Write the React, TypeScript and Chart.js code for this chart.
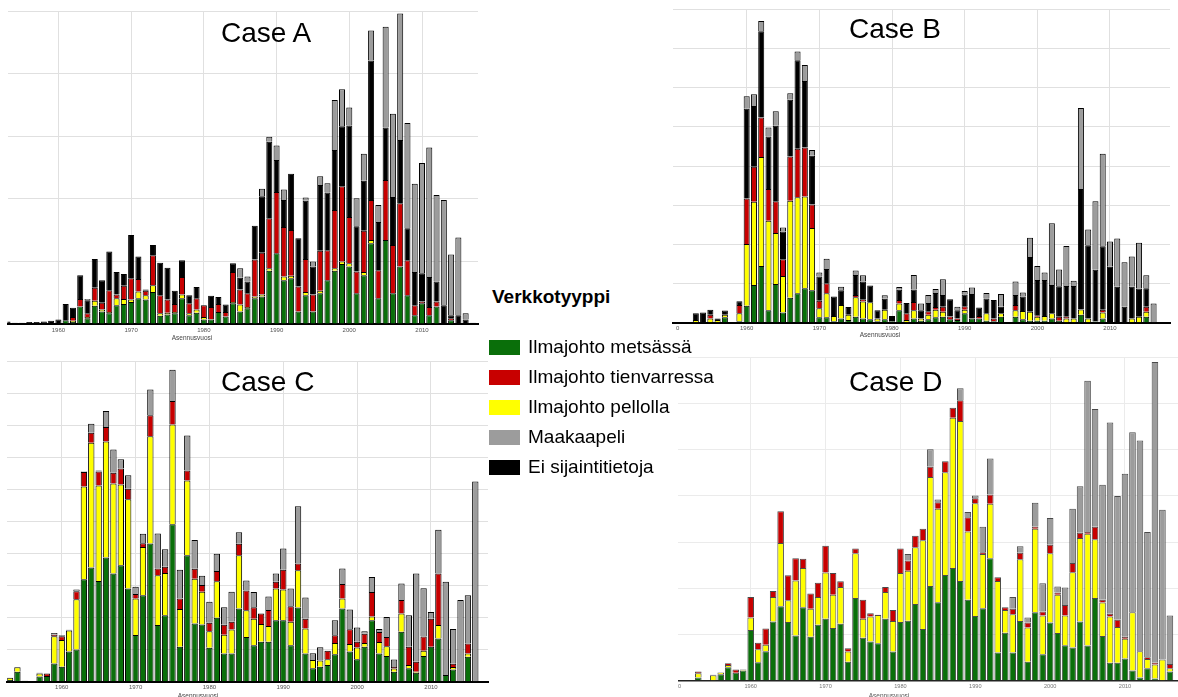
import React, { useEffect, useRef } from 'react';
import { Chart, registerables } from 'chart.js';

Chart.register(...registerables);

// Installation years, one bar per year in every panel.
const YEARS = [
  1953, 1954, 1955, 1956, 1957, 1958, 1959, 1960,
  1961, 1962, 1963, 1964, 1965, 1966, 1967, 1968, 1969, 1970,
  1971, 1972, 1973, 1974, 1975, 1976, 1977, 1978, 1979, 1980,
  1981, 1982, 1983, 1984, 1985, 1986, 1987, 1988, 1989, 1990,
  1991, 1992, 1993, 1994, 1995, 1996, 1997, 1998, 1999, 2000,
  2001, 2002, 2003, 2004, 2005, 2006, 2007, 2008, 2009, 2010,
  2011, 2012, 2013, 2014, 2015, 2016, 2017,
];

const DECADE_TICKS = [1960, 1970, 1980, 1990, 2000, 2010];
// Slot used for lines whose installation year is unknown, labelled "0".
const UNKNOWN_YEAR_TICK = 1950.5;
const UNKNOWN_YEAR_LABEL = '0';
const AXIS_TITLE = 'Asennusvuosi';
const LEGEND_TITLE = 'Verkkotyyppi';

// ---- Case A ----
const caseAForest = [
  0, 0, 0, 0, 0, 0, 0, 0,
  6, 3, 28, 9, 29, 20, 17, 30, 32, 35,
  41, 39, 51, 13, 15, 17, 41, 14, 18, 7,
  7, 19, 12, 33, 20, 25, 41, 44, 85, 113,
  70, 73, 20, 46, 20, 49, 70, 85, 96, 92,
  49, 78, 129, 41, 134, 49, 92, 46, 14, 33,
  14, 28, 0, 6, 0, 0, 0,
];
const caseAField = [
  0, 0, 0, 0, 0, 0, 0, 0,
  0, 2, 0, 2, 8, 3, 2, 11, 8, 4,
  11, 7, 11, 4, 3, 2, 6, 3, 5, 4,
  1, 0, 0, 2, 11, 2, 3, 3, 4, 0,
  6, 4, 0, 5, 0, 4, 0, 4, 4, 5,
  0, 5, 5, 0, 0, 0, 0, 0, 0, 0,
  0, 0, 0, 0, 0, 0, 0,
];
const caseARoadside = [
  0, 0, 0, 0, 0, 0, 0, 0,
  0, 6, 12, 6, 21, 11, 35, 6, 21, 34,
  20, 7, 48, 29, 21, 13, 28, 16, 18, 19,
  19, 13, 7, 48, 24, 22, 59, 67, 80, 98,
  79, 73, 40, 53, 27, 64, 48, 93, 120, 74,
  35, 66, 64, 45, 96, 77, 101, 56, 16, 3,
  13, 8, 0, 3, 0, 0, 0,
];
const caseAUnknown = [
  4, 2, 2, 3, 3, 4, 5, 7,
  26, 15, 38, 21, 46, 36, 62, 36, 19, 69,
  36, 2, 16, 52, 51, 21, 27, 13, 18, 0,
  18, 11, 12, 14, 19, 19, 54, 90, 122, 51,
  43, 90, 77, 93, 45, 105, 92, 96, 96, 146,
  72, 80, 223, 77, 84, 77, 101, 51, 53, 45,
  48, 32, 30, 5, 14, 7, 2,
];
const caseACable = [
  0, 0, 0, 0, 0, 0, 0, 0,
  0, 0, 0, 2, 0, 0, 0, 0, 0, 0,
  0, 0, 0, 0, 0, 0, 0, 0, 0, 0,
  0, 0, 0, 0, 15, 8, 0, 12, 8, 23,
  17, 0, 0, 5, 8, 14, 15, 80, 59, 29,
  45, 43, 48, 27, 161, 133, 202, 168, 141, 176,
  207, 138, 168, 97, 124, 10, 0,
];

// ---- Case B ----
const caseBForest = [
  0, 0, 0, 0, 14, 0, 4, 43,
  96, 145, 32, 99, 26, 64, 75, 88, 83, 14,
  14, 4, 11, 7, 15, 11, 9, 4, 9, 4,
  32, 0, 11, 5, 9, 14, 15, 9, 7, 24,
  11, 11, 5, 4, 15, 0, 15, 9, 5, 5,
  5, 11, 5, 0, 0, 20, 0, 3, 11, 0,
  0, 0, 0, 0, 15, 0, 0,
];
const caseBField = [
  7, 0, 11, 7, 6, 0, 20, 158,
  213, 278, 228, 130, 93, 247, 245, 234, 159, 23,
  61, 13, 34, 13, 50, 43, 43, 7, 24, 0,
  17, 7, 21, 6, 11, 19, 13, 0, 0, 9,
  0, 0, 19, 0, 9, 0, 17, 21, 23, 10,
  12, 13, 0, 11, 11, 14, 11, 0, 15, 0,
  0, 0, 11, 15, 13, 0, 0,
];
const caseBRoadside = [
  0, 0, 9, 0, 0, 0, 21, 116,
  89, 101, 81, 81, 43, 113, 124, 125, 60, 19,
  26, 0, 0, 0, 6, 6, 0, 0, 0, 0,
  9, 17, 21, 0, 9, 7, 13, 7, 4, 9,
  0, 6, 0, 7, 0, 0, 13, 0, 0, 4,
  0, 0, 10, 4, 0, 0, 0, 0, 7, 0,
  0, 0, 0, 0, 13, 0, 0,
];
const caseBUnknown = [
  17, 26, 13, 4, 11, 0, 10, 229,
  155, 220, 134, 193, 71, 145, 226, 170, 124, 62,
  36, 50, 38, 20, 51, 45, 43, 21, 28, 13,
  26, 26, 32, 21, 21, 36, 30, 44, 21, 30,
  62, 22, 38, 47, 17, 0, 26, 37, 140, 90,
  92, 72, 78, 79, 83, 307, 187, 132, 162, 143,
  92, 41, 81, 72, 47, 0, 0,
];
const caseBCable = [
  0, 0, 0, 0, 0, 0, 0, 32,
  30, 26, 23, 37, 10, 17, 22, 41, 15, 10,
  26, 0, 9, 0, 11, 16, 0, 0, 9, 0,
  7, 0, 37, 17, 21, 10, 40, 0, 9, 9,
  17, 0, 14, 0, 32, 0, 34, 10, 49, 36,
  19, 158, 43, 102, 13, 207, 40, 175, 236, 64,
  123, 113, 77, 117, 33, 49, 0,
];

// ---- Case C ----
const caseCForest = [
  5, 31, 3, 2, 16, 18, 57, 47,
  94, 101, 320, 357, 315, 388, 338, 364, 291, 146,
  270, 432, 177, 208, 492, 109, 395, 182, 179, 106,
  200, 88, 88, 229, 140, 114, 125, 125, 192, 192,
  114, 232, 88, 42, 47, 52, 86, 229, 94, 70,
  109, 192, 88, 80, 31, 156, 42, 28, 80, 109,
  135, 21, 38, 0, 78, 0, 0,
];
const caseCField = [
  7, 14, 0, 0, 10, 0, 85, 83,
  66, 157, 290, 390, 298, 363, 281, 252, 279, 114,
  151, 335, 156, 132, 312, 118, 234, 140, 102, 52,
  114, 59, 75, 166, 83, 83, 55, 49, 99, 96,
  73, 116, 78, 26, 19, 18, 35, 31, 24, 37,
  12, 12, 36, 31, 10, 57, 10, 3, 17, 0,
  42, 0, 8, 0, 10, 0, 0,
];
const caseCRoadside = [
  0, 0, 0, 0, 0, 8, 5, 12,
  0, 25, 45, 31, 44, 45, 34, 50, 33, 14,
  12, 66, 21, 19, 73, 33, 31, 31, 21, 26,
  32, 31, 24, 36, 62, 36, 33, 50, 21, 62,
  49, 21, 31, 0, 0, 27, 24, 45, 46, 18,
  29, 76, 31, 29, 5, 42, 57, 31, 44, 88,
  161, 0, 10, 0, 31, 0, 0,
];
const caseCUnknown = [
  0, 0, 0, 0, 0, 0, 0, 0,
  0, 0, 0, 0, 0, 0, 0, 0, 0, 0,
  0, 0, 0, 0, 0, 0, 0, 0, 0, 0,
  0, 0, 0, 0, 0, 0, 0, 0, 0, 0,
  0, 0, 0, 0, 0, 0, 0, 0, 0, 0,
  0, 0, 0, 0, 0, 0, 0, 0, 0, 0,
  0, 0, 0, 0, 0, 0, 0,
];
const caseCCable = [
  0, 0, 0, 0, 2, 0, 5, 3,
  2, 5, 2, 28, 3, 50, 73, 29, 42, 23,
  29, 80, 109, 55, 98, 90, 109, 90, 29, 66,
  54, 55, 94, 36, 31, 47, 0, 42, 26, 66,
  55, 179, 66, 21, 42, 0, 47, 49, 62, 44,
  8, 47, 10, 62, 23, 52, 99, 276, 151, 21,
  137, 291, 109, 255, 151, 626, 0,
];

// ---- Case D ----
const caseDForest = [
  7, 0, 0, 14, 29, 17, 22, 110,
  40, 64, 128, 161, 127, 98, 159, 95, 121, 134,
  114, 123, 41, 179, 93, 85, 81, 134, 63, 127,
  130, 166, 112, 205, 170, 229, 244, 216, 175, 140,
  157, 265, 61, 104, 61, 129, 41, 148, 57, 126,
  103, 77, 72, 128, 76, 179, 97, 39, 39, 48,
  22, 7, 27, 5, 1, 20, 0,
];
const caseDField = [
  9, 0, 12, 4, 5, 0, 2, 27,
  28, 14, 53, 137, 47, 119, 85, 61, 60, 100,
  72, 80, 22, 97, 41, 54, 61, 58, 66, 106,
  108, 123, 192, 236, 202, 222, 325, 346, 148, 244,
  117, 118, 155, 49, 83, 134, 74, 181, 84, 150,
  83, 64, 163, 181, 242, 127, 72, 100, 77, 43,
  126, 57, 20, 30, 45, 7, 0,
];
const caseDRoadside = [
  4, 1, 1, 0, 4, 7, 0, 44,
  14, 35, 13, 69, 54, 48, 20, 33, 31, 58,
  47, 12, 7, 10, 41, 7, 1, 11, 24, 53,
  22, 25, 25, 22, 14, 24, 22, 45, 31, 11,
  4, 20, 8, 6, 12, 14, 11, 5, 9, 18,
  5, 23, 20, 11, 4, 27, 6, 6, 16, 4,
  0, 0, 4, 4, 0, 9, 0,
];
const caseDUnknown = [
  0, 0, 0, 0, 0, 0, 0, 0,
  0, 0, 0, 0, 0, 0, 0, 0, 0, 0,
  0, 0, 0, 0, 0, 0, 0, 0, 0, 0,
  0, 0, 0, 0, 0, 0, 0, 0, 0, 0,
  0, 0, 0, 0, 0, 0, 0, 0, 0, 0,
  0, 0, 0, 0, 0, 0, 0, 0, 0, 0,
  0, 0, 0, 0, 0, 0, 0,
];
const caseDCable = [
  0, 0, 0, 0, 0, 0, 0, 0,
  0, 0, 0, 0, 0, 0, 0, 0, 0, 0,
  0, 0, 0, 0, 0, 0, 0, 0, 0, 0,
  14, 0, 0, 38, 6, 0, 0, 26, 11, 6,
  55, 78, 0, 0, 25, 14, 11, 51, 61, 58,
  13, 38, 117, 101, 327, 255, 249, 414, 268, 353,
  390, 456, 271, 651, 324, 105, 0,
];

// Network types: name and fill colour.
const TYPE_FOREST = { name: 'Ilmajohto metsässä', color: '#0a6f0a' };
const TYPE_ROADSIDE = { name: 'Ilmajohto tienvarressa', color: '#c80000' };
const TYPE_FIELD = { name: 'Ilmajohto pellolla', color: '#ffff00' };
const TYPE_CABLE = { name: 'Maakaapeli', color: '#9c9c9c' };
const TYPE_UNKNOWN = { name: 'Ei sijaintitietoja', color: '#000000' };

// Bottom-to-top stacking order of the bars.
const STACK_TYPES = [TYPE_FOREST, TYPE_FIELD, TYPE_ROADSIDE, TYPE_UNKNOWN, TYPE_CABLE];
// Order of the shared legend.
const LEGEND_TYPES = [TYPE_FOREST, TYPE_ROADSIDE, TYPE_FIELD, TYPE_CABLE, TYPE_UNKNOWN];

const FONT = '"Liberation Sans", Arial, Helvetica, sans-serif';

type Panel = {
  title: string;
  series: number[][];
  box: { left: number; top: number; width: number; height: number };
  pad: { left: number; right: number; top: number };
  axisHeight: number;
  xMin: number;
  xMax: number;
  yMax: number;
  ticks: number[];
  barFrac: number;
  tickPad: number;
  tickSize: number;
  tickColor: string;
  edge: string;
  grid: string;
  base: string;
  baseWidth: number;
  titlePos: { left: number; top: number };
  axisTitlePos: { x: number; y: number };
  axisTitleColor: string;
};

const PANELS: Panel[] = [
  {
    title: 'Case A',
    series: [caseAForest, caseAField, caseARoadside, caseAUnknown, caseACable],
    box: { left: 0, top: 0, width: 485, height: 345 },
    pad: { left: 7.5, right: 7, top: 11 },
    axisHeight: 21,
    xMin: 1953.0,
    xMax: 2017.7,
    yMax: 500,
    ticks: DECADE_TICKS,
    barFrac: 0.83,
    tickPad: 2.4,
    tickSize: 6,
    tickColor: '#555',
    edge: '#000',
    grid: '#e0e0e0',
    base: '#000',
    baseWidth: 2,
    titlePos: { left: 221, top: 19.3 },
    axisTitlePos: { x: 192, y: 337 },
    axisTitleColor: '#444',
  },
  {
    title: 'Case B',
    series: [caseBForest, caseBField, caseBRoadside, caseBUnknown, caseBCable],
    box: { left: 668, top: 0, width: 510, height: 345 },
    pad: { left: 5.3, right: 8, top: 9.3 },
    axisHeight: 22.3,
    xMin: 1949.9,
    xMax: 2018.26,
    yMax: 800,
    ticks: [UNKNOWN_YEAR_TICK, ...DECADE_TICKS],
    barFrac: 0.83,
    tickPad: 2,
    tickSize: 6,
    tickColor: '#555',
    edge: '#000',
    grid: '#e0e0e0',
    base: '#000',
    baseWidth: 2,
    titlePos: { left: 849, top: 14.6 },
    axisTitlePos: { x: 880, y: 334 },
    axisTitleColor: '#444',
  },
  {
    title: 'Case C',
    series: [caseCForest, caseCField, caseCRoadside, caseCUnknown, caseCCable],
    box: { left: 0, top: 350, width: 495, height: 347 },
    pad: { left: 7.3, right: 7, top: 11.7 },
    axisHeight: 15.3,
    xMin: 1952.63,
    xMax: 2017.72,
    yMax: 1000,
    ticks: DECADE_TICKS,
    barFrac: 0.86,
    tickPad: 2,
    tickSize: 6,
    tickColor: '#555',
    edge: '#000',
    grid: '#e0e0e0',
    base: '#000',
    baseWidth: 2,
    titlePos: { left: 221, top: 368 },
    axisTitlePos: { x: 198, y: 695 },
    axisTitleColor: '#444',
  },
  {
    title: 'Case D',
    series: [caseDForest, caseDField, caseDRoadside, caseDUnknown, caseDCable],
    box: { left: 668, top: 350, width: 510, height: 347 },
    pad: { left: 10.3, right: 0, top: 7.3 },
    axisHeight: 16.3,
    xMin: 1950.33,
    xMax: 2017.08,
    yMax: 700,
    ticks: [UNKNOWN_YEAR_TICK, ...DECADE_TICKS],
    barFrac: 0.88,
    tickPad: 2.4,
    tickSize: 5.6,
    tickColor: '#777',
    edge: '#4a4a4a',
    grid: '#ebebeb',
    base: '#222',
    baseWidth: 1.5,
    titlePos: { left: 849, top: 368 },
    axisTitlePos: { x: 889, y: 695 },
    axisTitleColor: '#555',
  },
];

function StackedPanel({ panel }: { panel: Panel }) {
  const ref = useRef<HTMLCanvasElement | null>(null);

  useEffect(() => {
    const canvas = ref.current;
    if (!canvas) return;
    const p = panel;
    const datasets = STACK_TYPES.map((type, si) => ({
      label: type.name,
      data: YEARS.map((yr, i) => ({ x: yr, y: p.series[si][i] ? p.series[si][i] : null })),
      backgroundColor: type.color,
      borderColor: p.edge,
      borderWidth: 1,
      categoryPercentage: 1,
      barPercentage: p.barFrac,
    }));

    const chart = new Chart(canvas, {
      type: 'bar',
      data: { datasets } as any,
      options: {
        animation: false,
        responsive: false,
        devicePixelRatio: 1,
        events: [],
        layout: { padding: { left: p.pad.left, right: p.pad.right, top: p.pad.top, bottom: 0 } },
        plugins: {
          legend: { display: false },
          tooltip: { enabled: false },
          title: { display: false },
        },
        scales: {
          x: {
            type: 'linear',
            min: p.xMin,
            max: p.xMax,
            offset: false,
            stacked: true,
            grid: {
              offset: false,
              drawTicks: false,
              lineWidth: 1,
              color: (ctx: any) =>
                ctx.tick && ctx.tick.value === UNKNOWN_YEAR_TICK ? 'rgba(0,0,0,0)' : p.grid,
            },
            border: { display: true, color: p.base, width: p.baseWidth },
            afterBuildTicks: (scale: any) => {
              scale.ticks = p.ticks.map((v) => ({ value: v }));
            },
            afterFit: (scale: any) => {
              scale.height = p.axisHeight;
            },
            ticks: {
              autoSkip: false,
              maxRotation: 0,
              minRotation: 0,
              padding: p.tickPad,
              color: p.tickColor,
              font: { family: FONT, size: p.tickSize },
              callback: (v: any) => (v === UNKNOWN_YEAR_TICK ? UNKNOWN_YEAR_LABEL : String(v)),
            },
          } as any,
          y: {
            type: 'linear',
            min: 0,
            max: p.yMax,
            stacked: true,
            grid: { color: p.grid, lineWidth: 1, drawTicks: false },
            border: { display: false },
            ticks: { display: false, stepSize: 100 },
            afterFit: (scale: any) => {
              scale.width = 0;
            },
          } as any,
        },
      },
    });
    return () => chart.destroy();
  }, [panel]);

  const { box } = panel;
  return (
    <canvas
      ref={ref}
      width={box.width}
      height={box.height}
      style={{
        position: 'absolute',
        left: box.left,
        top: box.top,
        width: box.width,
        height: box.height,
        display: 'block',
      }}
    />
  );
}

export default function App() {
  return (
    <div
      style={{
        position: 'absolute',
        left: 0,
        top: 0,
        width: 1178,
        height: 697,
        overflow: 'hidden',
        background: '#ffffff',
        fontFamily: FONT,
      }}
    >
      {PANELS.map((p) => (
        <StackedPanel key={p.title} panel={p} />
      ))}

      {PANELS.map((p) => (
        <div
          key={p.title + '-t'}
          style={{
            position: 'absolute',
            left: p.titlePos.left,
            top: p.titlePos.top,
            fontSize: 28,
            lineHeight: '28px',
            color: '#000',
            whiteSpace: 'nowrap',
          }}
        >
          {p.title}
        </div>
      ))}

      {PANELS.map((p) => (
        <div
          key={p.title + '-x'}
          style={{
            position: 'absolute',
            left: p.axisTitlePos.x,
            top: p.axisTitlePos.y,
            transform: 'translate(-50%, -50%)',
            fontSize: 6.5,
            lineHeight: '7px',
            color: p.axisTitleColor,
            whiteSpace: 'nowrap',
          }}
        >
          {AXIS_TITLE}
        </div>
      ))}

      <div
        style={{
          position: 'absolute',
          left: 492,
          top: 287.2,
          fontSize: 19,
          lineHeight: '19px',
          fontWeight: 'bold',
          color: '#000',
          whiteSpace: 'nowrap',
        }}
      >
        {LEGEND_TITLE}
      </div>
      {LEGEND_TYPES.map((t, i) => {
        const top = 339.5 + i * 30.1;
        return (
          <React.Fragment key={t.name}>
            <div
              style={{
                position: 'absolute',
                left: 489,
                top,
                width: 31,
                height: 15,
                background: t.color,
              }}
            />
            <div
              style={{
                position: 'absolute',
                left: 528,
                top: top - 2.8,
                fontSize: 19,
                lineHeight: '19px',
                color: '#000',
                whiteSpace: 'nowrap',
              }}
            >
              {t.name}
            </div>
          </React.Fragment>
        );
      })}
    </div>
  );
}
